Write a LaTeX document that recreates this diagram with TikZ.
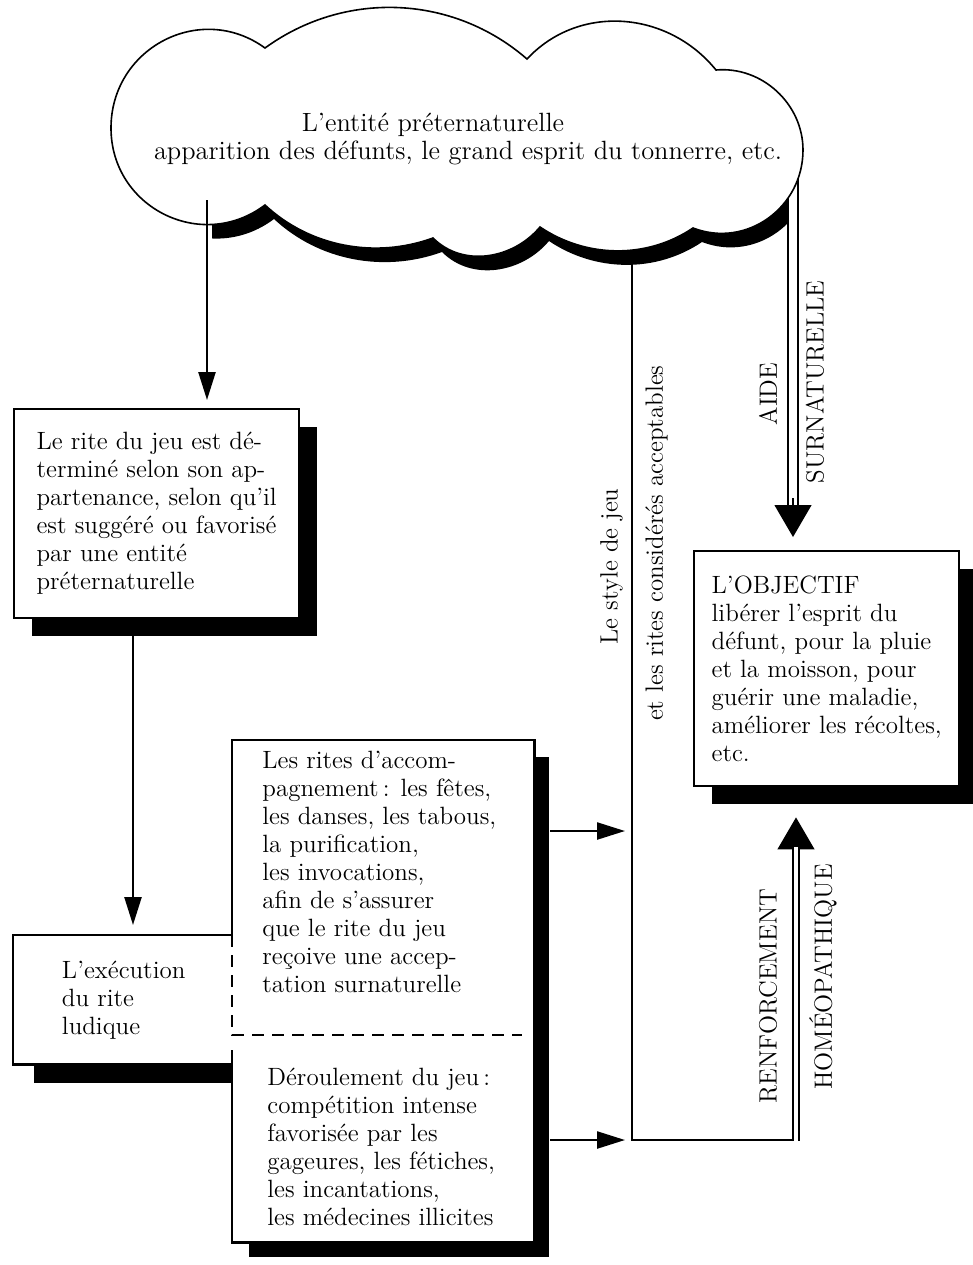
\documentclass[tikz,border=0pt]{standalone}
\usepackage{fontspec}
\usetikzlibrary{arrows.meta,shadows}
\newcommand{\police}{\fontsize{12.5}{14}\selectfont}
\newcommand{\policenuage}{\fontsize{13.2}{14.2}\selectfont}
\def\nuage{(265,-205) to[out=217,in=-90,looseness=1.18] (111,-128)
 to[out=90,in=144,looseness=1.18] (265,-48)
 to[out=36,in=139,looseness=0.96] (527,-59)
 to[out=47,in=129,looseness=1.03] (716,-70)
 to[out=5,in=90] (803,-150)
 to[out=-90,in=-21,looseness=1.09] (693,-228)
 to[out=214,in=-34,looseness=0.93] (540,-227)
 to[out=230,in=-45] (433,-238)
 to[out=200,in=-43,looseness=0.92] (265,-205) -- cycle}
\begin{document}
\begin{tikzpicture}[x=0.5pt,y=0.5pt,
  every node/.style={font=\police,inner sep=0pt},
  trait/.style={line width=1.2pt},
  fleche/.style={line width=1.2pt,-{Triangle[length=14pt,width=8.5pt]}},
  grosse/.style={line width=0.6pt,-{Triangle[length=16pt,width=18.5pt]}},
  pointille/.style={line width=1.2pt,dash pattern=on 6pt off 4pt},
  cadre/.style={fill=white,line width=1.2pt,align=left,anchor=north west,
    drop shadow={shadow xshift=#1,shadow yshift=-#1,fill=black,opacity=1}},
  cadre/.default=9pt]
\useasboundingbox (0,0) rectangle (973,-1265);
\begin{scope}
\clip (212,0) rectangle (790,-320);
\fill[shift={(9,-14)}] \nuage;
\end{scope}
\coordinate (depA) at (207,-200);
\coordinate (axeB) at (133,0);
\coordinate (voieHaut) at (632,-235);
\coordinate (voieBas) at (632,-1140);
\coordinate (coinR) at (800,-1140);
\coordinate (renfBas) at (796,-1141);
\coordinate (renfHaut) at (796,-847);
\coordinate (aideHaut) at (793,-170);
\coordinate (aideBas) at (793,-506);
\coordinate (cible1) at (632,-831);
\coordinate (cible2) at (632,-1140);
\coordinate (coupure) at (232,-1035);
\coordinate (coupureFin) at (522,-1035);
\coordinate (reprise) at (232,-1050);
\draw[trait] (voieHaut) -- (voieBas) -- (coinR);
\draw[line width=1.1pt,double,double distance=3.6pt] (aideHaut) -- (aideBas);
\filldraw[fill=white,line width=0.8pt] \nuage;
\node[align=center,font=\policenuage] (entite) at (468,-139) {L'entité préternaturelle\hspace*{35pt}\\apparition des défunts, le grand esprit du tonnerre, etc.};
\node[cadre,draw,minimum width=142.5pt,minimum height=104.5pt] (rite) at (13,-408) {Le rite du jeu est dé-\\terminé selon son ap-\\partenance, selon qu'il\\est suggéré ou favorisé\\par une entité\\préternaturelle};
\draw[fleche,shorten >=4pt] (depA) -- (depA |- rite.north);
\node[cadre=10pt,minimum width=109.5pt,minimum height=63.5pt] (execution) at (13,-935) {L'exécution\\du rite\\ludique};
\draw[fleche,shorten >=5pt] (rite.south -| axeB) -- (execution.north -| axeB);
\draw[trait] (execution.north east) -- (execution.north west) -- (execution.south west) -- (execution.south east);
\node[cadre=8pt,minimum width=150pt,minimum height=250pt] (cadreC) at (232,-740) {};
\draw[trait] (cadreC.west |- execution.north) -- (cadreC.north west) -- (cadreC.north east) -- (cadreC.south east) -- (cadreC.south west) -- (reprise);
\draw[pointille] (cadreC.west |- execution.north) -- (coupure) -- (coupureFin);
\node[anchor=north west,align=left] (accomp) at (262,-751) {Les rites d'accom-\\pagnement\,: les fêtes,\\les danses, les tabous,\\la purification,\\les invocations,\\afin de s'assurer\\que le rite du jeu\\reçoive une accep-\\tation surnaturelle};
\node[anchor=north west,align=left] (deroul) at (267,-1068) {Déroulement du jeu\,:\\compétition intense\\favorisée par les\\gageures, les fétiches,\\les incantations,\\les médecines illicites};
\node[cadre,draw,minimum width=132.5pt,minimum height=117.5pt] (objectif) at (693,-550) {L'OBJECTIF\\libérer l'esprit du\\défunt, pour la pluie\\et la moisson, pour\\guérir une maladie,\\améliorer les récoltes,\\etc.};
\draw[grosse,shorten >=6.5pt] ([yshift=4pt]aideBas) -- (aideBas |- objectif.north);
\draw[fleche,shorten >=3.5pt] ([xshift=8pt]cadreC.east |- cible1) -- (cible1);
\draw[fleche,shorten >=3.5pt] ([xshift=8pt]cadreC.east |- cible2) -- (cible2);
\draw[grosse,shorten >=15pt] ([yshift=-4pt]renfHaut) -- (renfHaut |- objectif.south);
\draw[line width=0.8pt,double,double distance=2.4pt] (renfBas) -- (renfHaut);
\node[rotate=90,anchor=south east] (style) at (623,-488) {Le style de jeu};
\node[rotate=90,anchor=north east] (rites) at (645,-365) {et les rites considérés acceptables};
\node[rotate=90] (aide) at (768,-394) {AIDE};
\node[rotate=90] (surnat) at (815,-382) {SURNATURELLE};
\node[rotate=90] (renf) at (768,-996) {RENFORCEMENT};
\node[rotate=90] (homeo) at (823,-977) {HOMÉOPATHIQUE};
\end{tikzpicture}
\end{document}
